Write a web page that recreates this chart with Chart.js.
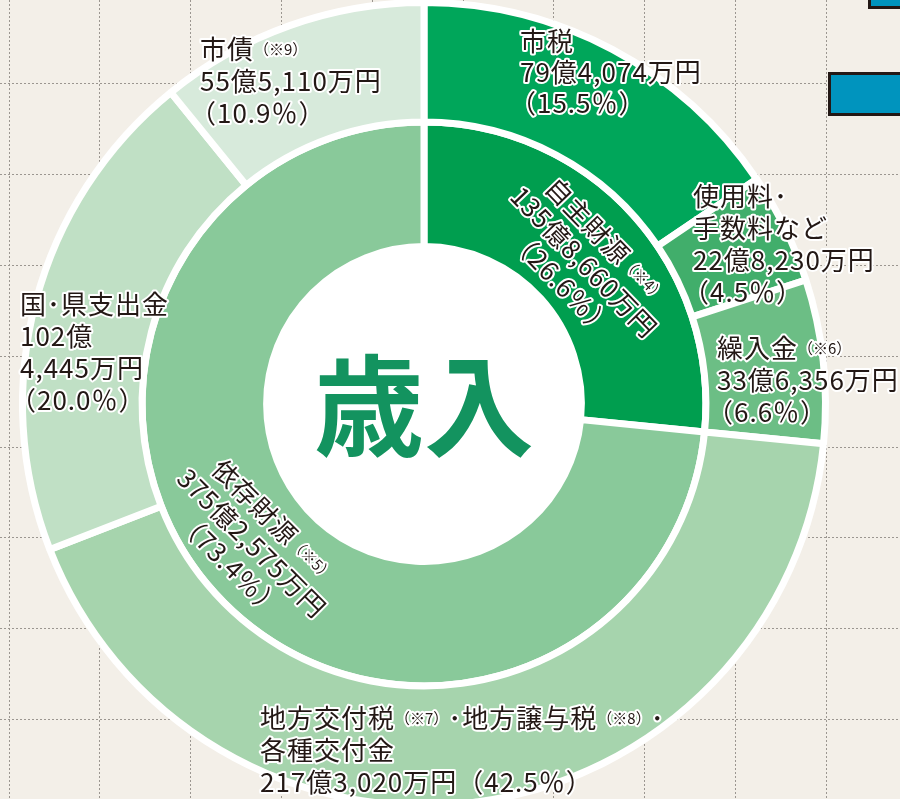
<!DOCTYPE html>
<html>
<head>
<meta charset="utf-8">
<script src="https://cdn.jsdelivr.net/npm/chart.js@4"></script>
<style>
  html, body { margin: 0; padding: 0; background: #f3efe8; }
  canvas { display: block; }
</style>
</head>
<body>
<canvas id="chart" width="900" height="799"></canvas>
<script>
// outer ring (万円)
var outerLabels = ["市税", "使用料・手数料など", "繰入金", "地方交付税・地方譲与税・各種交付金", "国・県支出金", "市債"];
var outerValues = [794074, 228230, 336356, 2173020, 1024445, 555110];
var outerColors = ["#00a65a", "#41ae6b", "#6cbe85", "#a6d4ad", "#c0e0c5", "#d7eadb"];

// inner ring (万円)
var innerLabels = ["自主財源", "依存財源"];
var innerValues = [1358660, 3752575];
var innerColors = ["#009e4f", "#89c99a"];

var centerTitle = "歳入";

var total = innerValues.reduce(function(a, b) { return a + b; }, 0);

function amount(v) {
  var oku = Math.floor(v / 10000);
  var man = v % 10000;
  return [oku + "億", man.toLocaleString("en-US") + "万円"];
}
function pct(v) {
  return "（" + (v / total * 100).toFixed(1) + "％）";
}
function amt(v) {
  var a = amount(v);
  return a[0] + a[1];
}

var BIG = '26px "Noto Sans CJK JP"';
var SMALL = '15px "Noto Sans CJK JP"';

// label blocks, offsets from the chart centre
var labelBlocks = [
  { dx: 96, dy: -363, lh: 31, lines: [[["市税"]], [[amt(outerValues[0])]], [[pct(outerValues[0])]]] },
  { dx: 269, dy: -208, lh: 32, lines: [[["使用料･"]], [["手数料など"]], [[amt(outerValues[1])]], [[pct(outerValues[1])]]] },
  { dx: 293, dy: -56, lh: 32, lines: [[["繰入金"], ["（※6）", 1]], [[amt(outerValues[2])]], [[pct(outerValues[2])]]] },
  { dx: -164, dy: 314, lh: 32, lines: [[["地方交付税"], ["（※7）", 1], ["･地方譲与税"], ["（※8）", 1], ["･"]], [["各種交付金"]], [[amt(outerValues[3]) + pct(outerValues[3])]]] },
  { dx: -404, dy: -100, lh: 32, lines: [[["国･県支出金"]], [[amount(outerValues[4])[0]]], [[amount(outerValues[4])[1]]], [[pct(outerValues[4])]]] },
  { dx: -224, dy: -355, lh: 32, lines: [[["市債"], ["（※9）", 1]], [[amt(outerValues[5])]], [[pct(outerValues[5])]]] },
  { dx: 160, dy: -142, lh: 31, rot: 46, center: true, lines: [[["自主財源"], ["（※4）", 1]], [[amt(innerValues[0])]], [[pct(innerValues[0])]]] },
  { dx: -172, dy: 139, lh: 31, rot: 45, center: true, lines: [[["依存財源"], ["（※5）", 1]], [[amt(innerValues[1])]], [[pct(innerValues[1])]]] }
];

function setFont(ctx, small) {
  ctx.font = small ? SMALL : BIG;
  ctx.letterSpacing = small ? "0px" : "1px";
}

function drawLine(ctx, segs, x, y, centered) {
  var widths = segs.map(function(s) {
    setFont(ctx, s[1]);
    return ctx.measureText(s[0]).width;
  });
  var w = widths.reduce(function(a, b) { return a + b; }, 0);
  var cx = centered ? x - w / 2 : x;
  // opening full-width paren sits to the right of its box
  if (!centered && segs[0][0].charAt(0) === "（") cx -= 10;
  segs.forEach(function(s, i) {
    setFont(ctx, s[1]);
    ctx.strokeText(s[0], cx, y);
    ctx.fillText(s[0], cx, y);
    cx += widths[i];
  });
}

var backgroundPlugin = {
  id: "background",
  beforeDraw: function(chart) {
    var ctx = chart.ctx;
    ctx.save();
    ctx.fillStyle = "#f3efe8";
    ctx.fillRect(0, 0, chart.width, chart.height);
    // dotted grid
    ctx.strokeStyle = "#9b9690";
    ctx.lineWidth = 1;
    ctx.setLineDash([2, 2]);
    for (var gx = 8.5; gx < chart.width; gx += 90.8) {
      ctx.beginPath();
      ctx.moveTo(Math.round(gx) + 0.5, 0);
      ctx.lineTo(Math.round(gx) + 0.5, chart.height);
      ctx.stroke();
    }
    for (var gy = -7.5; gy < chart.height; gy += 90.8) {
      ctx.beginPath();
      ctx.moveTo(0, Math.round(gy) + 0.5);
      ctx.lineTo(chart.width, Math.round(gy) + 0.5);
      ctx.stroke();
    }
    ctx.setLineDash([]);
    // pieces of the neighbouring chart
    ctx.fillStyle = "#0094be";
    ctx.strokeStyle = "#231815";
    ctx.lineWidth = 3;
    ctx.fillRect(869, -10, 40, 17);
    ctx.strokeRect(869.5, -10, 40, 17.5);
    ctx.fillRect(829, 73, 80, 41);
    ctx.strokeRect(829.5, 73.5, 80, 41);
    ctx.restore();
  },
  beforeDatasetsDraw: function(chart) {
    var arc = chart.getDatasetMeta(1).data[0];
    var ctx = chart.ctx;
    ctx.save();
    ctx.fillStyle = "#ffffff";
    ctx.beginPath();
    ctx.arc(arc.x, arc.y, arc.innerRadius + 2, 0, Math.PI * 2);
    ctx.fill();
    ctx.restore();
  },
  afterDatasetsDraw: function(chart) {
    var arc = chart.getDatasetMeta(1).data[0];
    var ctx = chart.ctx;
    ctx.save();
    ctx.fillStyle = "#13935f";
    ctx.font = 'bold 110px "Noto Sans CJK JP"';
    ctx.textAlign = "center";
    ctx.textBaseline = "middle";
    ctx.fillText(centerTitle, arc.x, arc.y + 2);

    ctx.textAlign = "left";
    ctx.lineJoin = "round";
    ctx.lineWidth = 4;
    ctx.strokeStyle = "#ffffff";
    ctx.fillStyle = "#231815";
    labelBlocks.forEach(function(b) {
      ctx.save();
      ctx.translate(arc.x + b.dx, arc.y + b.dy);
      if (b.rot) ctx.rotate(b.rot * Math.PI / 180);
      var n = b.lines.length;
      b.lines.forEach(function(line, i) {
        var y = b.center ? (i - (n - 1) / 2) * b.lh : i * b.lh;
        drawLine(ctx, line, 0, y, b.center);
      });
      ctx.restore();
    });
    ctx.restore();
  }
};

var canvas = document.getElementById("chart");
new Chart(canvas, {
  type: "doughnut",
  data: {
    labels: outerLabels,
    datasets: [
      {
        label: "outer",
        data: outerValues,
        backgroundColor: outerColors,
        borderColor: "#ffffff",
        borderWidth: 7,
        weight: 119.5
      },
      {
        label: "inner",
        data: innerValues,
        backgroundColor: innerColors,
        borderColor: "#ffffff",
        borderWidth: 7,
        weight: 124.5
      }
    ]
  },
  options: {
    responsive: false,
    animation: false,
    radius: 401.5,
    cutout: "39.2%",
    layout: { padding: { left: 0, right: 52, top: 9, bottom: 0 } },
    plugins: {
      legend: { display: false },
      tooltip: { enabled: false }
    }
  },
  plugins: [backgroundPlugin]
});
</script>
</body>
</html>
